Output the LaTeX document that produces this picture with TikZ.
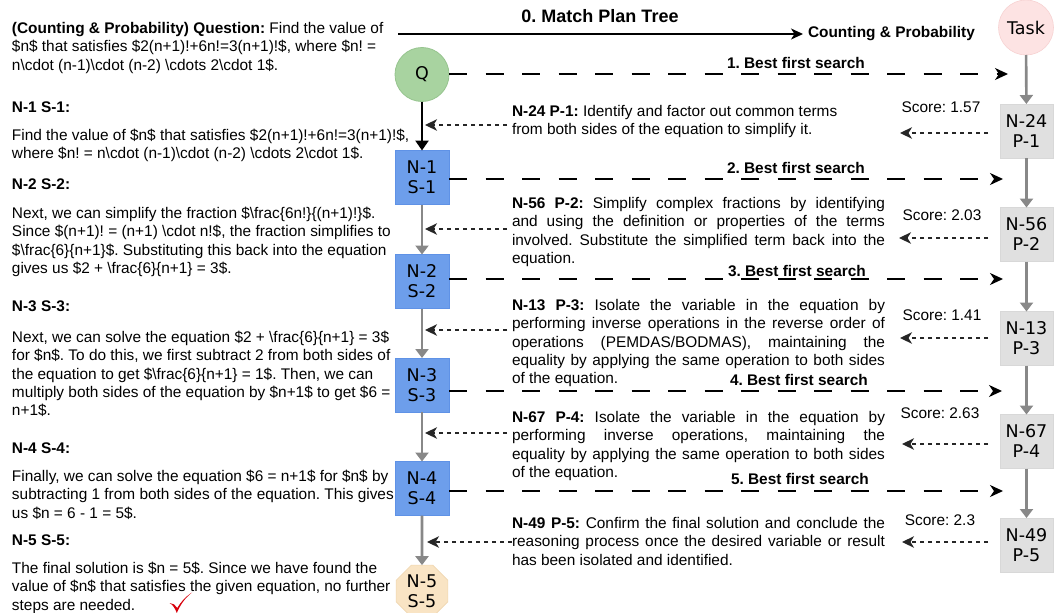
\documentclass[tikz,border=0pt]{standalone}
\usepackage{fontspec}
\setmainfont{Liberation Sans}
\newfontfamily\boxfont{DejaVu Sans}
\usetikzlibrary{arrows.meta,shapes.geometric}
\frenchspacing

% literal backslash for the LaTeX sources quoted in the texts
\newcommand\bsl{\textbackslash}
% one fully justified line of a plan description
\newcommand\jline[1]{\hbox to 373pt{#1}}
% strut that fixes the distance from the top of a text block to its first baseline
\newcommand\firststrut{\rule{0pt}{13pt}}

\definecolor{qgreen}{HTML}{A8D3A0}
\definecolor{qgreenline}{HTML}{96C48E}
\definecolor{taskpink}{HTML}{FDE3E3}
\definecolor{taskline}{HTML}{F7D2D2}
\definecolor{stepblue}{HTML}{6D9EEB}
\definecolor{stepline}{HTML}{5F92E6}
\definecolor{plangray}{HTML}{E0E0E0}
\definecolor{planline}{HTML}{D8D8D8}
\definecolor{finalbeige}{HTML}{F9E4C4}
\definecolor{finalline}{HTML}{F0D7B0}
\definecolor{flowgray}{HTML}{888888}
\definecolor{checkred}{HTML}{D8000C}

\tikzset{
  every node/.style={inner sep=0pt, outer sep=0pt},
  bodytext/.style={font=\fontsize{15.4}{18.3}\selectfont, align=left, anchor=north west},
  heading/.style={font=\bfseries\fontsize{15.4}{18.3}\selectfont, anchor=base west},
  boxlabel/.style={font=\boxfont\fontsize{17.5}{20}\selectfont, align=center},
  qnode/.style={boxlabel, circle, fill=qgreen, draw=qgreenline, line width=0.8pt, minimum size=54pt},
  tasknode/.style={boxlabel, circle, fill=taskpink, draw=taskline, line width=0.6pt, minimum size=55pt},
  stepbox/.style={boxlabel, rectangle, fill=stepblue, draw=stepline, line width=0.8pt, minimum width=54pt, minimum height=54pt},
  planbox/.style={boxlabel, rectangle, fill=plangray, draw=planline, line width=0.6pt, minimum width=53pt, minimum height=54pt},
  finalnode/.style={boxlabel, regular polygon, regular polygon sides=8, fill=finalbeige, draw=finalline, line width=0.6pt, minimum size=56pt},
  flow/.style={draw=flowgray, line width=2.6pt, -{Triangle[length=9pt,width=13pt]}},
  qflow/.style={draw=black, line width=2.8pt, -{Triangle[length=10pt,width=13pt]}},
  search/.style={draw=black, line width=1.5pt, dash pattern=on 18pt off 18.5pt, -{Stealth[length=13pt,width=12pt,inset=4pt]}},
  hint/.style={draw=black!85, line width=1.2pt, dash pattern=on 4.5pt off 3.5pt, -{Stealth[length=12pt,width=11.5pt,inset=3.5pt]}},
  toparrow/.style={draw=black, line width=1.4pt, -{Stealth[length=12pt,width=11pt,inset=3.5pt]}},
  searchlabel/.style={font=\bfseries\fontsize{15.4}{18}\selectfont, anchor=base west},
  score/.style={font=\fontsize{15.4}{18}\selectfont},
}

\begin{document}
\begin{tikzpicture}[x=1pt, y=-1pt]
\useasboundingbox (0,0) rectangle (1063,613);
\fill[white] (0,0) rectangle (1063,613);

% ---------- header ----------
\node[font=\bfseries\fontsize{18}{20}\selectfont] (title) at (600,16) {0. Match Plan Tree};
\node[searchlabel] (cat) at (808,37) {Counting \& Probability};
\coordinate (topstart) at (398,34);
\draw[toparrow, shorten >=5pt] (topstart) -- (cat.west |- topstart);

% ---------- solution steps (left column) ----------
\node[bodytext] (qtext) at (12,20.5) {\firststrut\textbf{(Counting \& Probability) Question:} Find the value of\\
\$n\$ that satisfies \$2(n+1)!+6n!=3(n+1)!\$, where \$n! =\\
n\bsl{}cdot (n-1)\bsl{}cdot (n-2) \bsl{}cdots 2\bsl{}cdot 1\$.};

\node[heading] (h1) at (12,112.5) {N-1 S-1:};
\node[bodytext] (s1text) at (12,127.5) {\firststrut Find the value of \$n\$ that satisfies \$2(n+1)!+6n!=3(n+1)!\$,\\
where \$n! = n\bsl{}cdot (n-1)\bsl{}cdot (n-2) \bsl{}cdots 2\bsl{}cdot 1\$.};

\node[heading] (h2) at (12,189.5) {N-2 S-2:};
\node[bodytext] (s2text) at (12,205.5) {\firststrut Next, we can simplify the fraction \$\bsl{}frac\{6n!\}\{(n+1)!\}\$.\\
Since \$(n+1)! = (n+1) \bsl{}cdot n!\$, the fraction simplifies to\\
\$\bsl{}frac\{6\}\{n+1\}\$. Substituting this back into the equation\\
gives us \$2 + \bsl{}frac\{6\}\{n+1\} = 3\$.};

\node[heading] (h3) at (12,311.5) {N-3 S-3:};
\node[bodytext] (s3text) at (12,329.5) {\firststrut Next, we can solve the equation \$2 + \bsl{}frac\{6\}\{n+1\} = 3\$\\
for \$n\$. To do this, we first subtract 2 from both sides of\\
the equation to get \$\bsl{}frac\{6\}\{n+1\} = 1\$. Then, we can\\
multiply both sides of the equation by \$n+1\$ to get \$6 =\\
n+1\$.};

\node[heading] (h4) at (12,453.5) {N-4 S-4:};
\node[bodytext] (s4text) at (12,468.5) {\firststrut Finally, we can solve the equation \$6 = n+1\$ for \$n\$ by\\
subtracting 1 from both sides of the equation. This gives\\
us \$n = 6 - 1 = 5\$.};

\node[heading] (h5) at (12,545.5) {N-5 S-5:};
\node[bodytext] (s5text) at (12,560.5) {\firststrut The final solution is \$n = 5\$. Since we have found the\\
value of \$n\$ that satisfies the given equation, no further\\
steps are needed.};

% check mark under the final answer
\fill[checkred]
  (169.5,603) .. controls (172.5,604.5) and (175,608) .. (176.8,613)
  .. controls (180.5,604.5) and (185,598) .. (192,592.5)
  .. controls (185,597) and (180,603) .. (177.3,608)
  .. controls (175.5,605) and (173,603) .. cycle;

% ---------- step chain ----------
\node[qnode] (Q) at (422,74.5) {Q};
\node[stepbox] (N1) at (422,177.5) {N-1\\S-1};
\node[stepbox] (N2) at (422,281.5) {N-2\\S-2};
\node[stepbox] (N3) at (422,385) {N-3\\S-3};
\node[stepbox] (N4) at (422,488.5) {N-4\\S-4};
\node[finalnode] (N5) at (422,591) {N-5\\S-5};

\draw[qflow] (Q) -- (N1);
\draw[flow] (N1) -- (N2);
\draw[flow] (N2) -- (N3);
\draw[flow] (N3) -- (N4);
\draw[flow] (N4) -- (N5);

% ---------- plan chain ----------
\node[tasknode] (task) at (1026,27.5) {Task};
\node[planbox] (P1) at (1026.5,131) {N-24\\P-1};
\node[planbox] (P2) at (1026.5,234.5) {N-56\\P-2};
\node[planbox] (P3) at (1026.5,338.5) {N-13\\P-3};
\node[planbox] (P4) at (1026.5,441.5) {N-67\\P-4};
\node[planbox] (P5) at (1026.5,545) {N-49\\P-5};

\draw[flow] (task) -- (P1);
\draw[flow] (P1) -- (P2);
\draw[flow] (P2) -- (P3);
\draw[flow] (P3) -- (P4);
\draw[flow] (P4) -- (P5);

% ---------- best first search ----------
\coordinate (a1) at (1008,74);
\coordinate (a2) at (1003,179);
\coordinate (a3) at (1003,279);
\coordinate (a4) at (1002,391);
\coordinate (a5) at (1003,491);
\draw[search] (Q.east |- a1) -- (a1);
\draw[search] (N1.east |- a2) -- (a2);
\draw[search] (N2.east |- a3) -- (a3);
\draw[search] (N3.east |- a4) -- (a4);
\draw[search] (N4.east |- a5) -- (a5);
\node[searchlabel] (b1) at (727,68) {1. Best first search};
\node[searchlabel] (b2) at (727,173.5) {2. Best first search};
\node[searchlabel] (b3) at (728,276.5) {3. Best first search};
\node[searchlabel] (b4) at (730,385.5) {4. Best first search};
\node[searchlabel] (b5) at (731,484.5) {5. Best first search};

% ---------- plan descriptions ----------
\node[bodytext] (d1) at (512,103.5) {\firststrut\textbf{N-24 P-1:} Identify and factor out common terms\\
from both sides of the equation to simplify it.};
\node[bodytext] (d2) at (512,195.5) {\jline{\firststrut\textbf{N-56 P-2:} Simplify complex fractions by identifying}\\
\jline{and using the definition or properties of the terms}\\
\jline{involved. Substitute the simplified term back into the}\\
equation.};
\node[bodytext] (d3) at (512,297.5) {\jline{\firststrut\textbf{N-13 P-3:} Isolate the variable in the equation by}\\
\jline{performing inverse operations in the reverse order of}\\
\jline{operations (PEMDAS/BODMAS), maintaining the}\\
\jline{equality by applying the same operation to both sides}\\
of the equation.};
\node[bodytext] (d4) at (512,409.5) {\jline{\firststrut\textbf{N-67 P-4:} Isolate the variable in the equation by}\\
\jline{performing inverse operations, maintaining the}\\
\jline{equality by applying the same operation to both sides}\\
of the equation.};
\node[bodytext] (d5) at (512,515.5) {\jline{\firststrut\textbf{N-49 P-5:} Confirm the final solution and conclude the}\\
\jline{reasoning process once the desired variable or result}\\
has been isolated and identified.};

% ---------- scores ----------
\node[score] (sc1) at (941,107) {Score: 1.57};
\node[score] (sc2) at (942,215) {Score: 2.03};
\node[score] (sc3) at (942,315) {Score: 1.41};
\node[score] (sc4) at (940,413) {Score: 2.63};
\node[score] (sc5) at (940,520) {Score: 2.3};

% plan box -> description
\coordinate (r1) at (900,133);
\coordinate (r2) at (899,238);
\coordinate (r3) at (900,338);
\coordinate (r4) at (902,444);
\coordinate (r5) at (902,542);
\draw[hint, shorten <=12pt] (P1.west |- r1) -- (r1);
\draw[hint, shorten <=12pt] (P2.west |- r2) -- (r2);
\draw[hint, shorten <=12pt] (P3.west |- r3) -- (r3);
\draw[hint, shorten <=12pt] (P4.west |- r4) -- (r4);
\draw[hint, shorten <=12pt] (P5.west |- r5) -- (r5);

% description -> step chain
\coordinate (l1) at (425,125);
\coordinate (l2) at (425,229);
\coordinate (l3) at (425,330);
\coordinate (l4) at (425,433);
\coordinate (l5) at (427,542);
\draw[hint, shorten <=5pt] (d1.west |- l1) -- (l1);
\draw[hint, shorten <=5pt] (d2.west |- l2) -- (l2);
\draw[hint, shorten <=5pt] (d3.west |- l3) -- (l3);
\draw[hint, shorten <=5pt] (d4.west |- l4) -- (l4);
\draw[hint] (d5.west |- l5) -- (l5);
\end{tikzpicture}
\end{document}
